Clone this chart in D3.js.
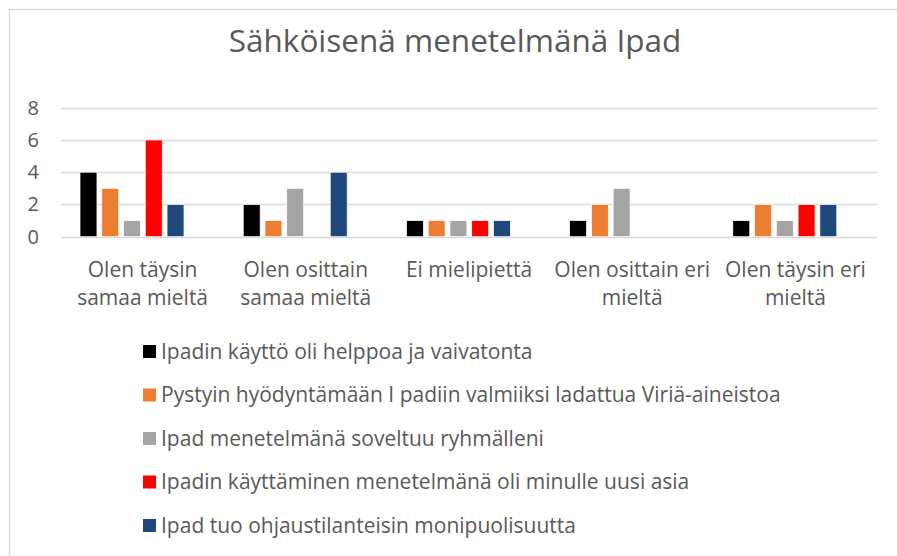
<!DOCTYPE html>
<html>
<head>
<meta charset="utf-8">
<script src="https://cdn.jsdelivr.net/npm/d3@7"></script>
<style>
  html, body { margin: 0; padding: 0; background: #fff; }
  svg { display: block; }
  text { font-family: "Open Sans", sans-serif; fill: #595959; }
</style>
</head>
<body>
<svg id="chart" width="897" height="556"></svg>
<script>
const title = "Sähköisenä menetelmänä Ipad";
const categories = ["Olen täysin samaa mieltä", "Olen osittain samaa mieltä", "Ei mielipiettä", "Olen osittain eri mieltä", "Olen täysin eri mieltä"];
const seriesNames = [
  "Ipadin käyttö oli helppoa ja vaivatonta",
  "Pystyin hyödyntämään I padiin valmiiksi ladattua Viriä-aineistoa",
  "Ipad menetelmänä soveltuu ryhmälleni",
  "Ipadin käyttäminen menetelmänä oli minulle uusi asia",
  "Ipad tuo ohjaustilanteisin monipuolisuutta"
];
const seriesColors = ["#000000", "#ed7d31", "#a5a5a5", "#ff0000", "#1f497d"];
const helppoa = [4, 2, 1, 1, 1];
const hyodyntamaan = [3, 1, 1, 2, 2];
const soveltuu = [1, 3, 1, 3, 1];
const uusiAsia = [6, 0, 1, 0, 2];
const monipuolisuutta = [2, 4, 1, 0, 2];
const seriesValues = [helppoa, hyodyntamaan, soveltuu, uusiAsia, monipuolisuutta];
const yTicks = [0, 2, 4, 6, 8];

const svg = d3.select("#chart");

// outer border
svg.append("rect").attr("x", 9.5).attr("y", 9.5).attr("width", 900).attr("height", 600)
  .attr("fill", "none").attr("stroke", "#d9d9d9").attr("stroke-width", 1.5);

// title
svg.append("text").attr("x", 455).attr("y", 52).attr("text-anchor", "middle")
  .style("font-size", "31.5px").text(title);

const plotLeft = 61, plotRight = 877;
const x0 = d3.scaleBand().domain(categories).range([plotLeft, plotRight]);
const x1 = d3.scaleBand().domain(d3.range(seriesNames.length)).range([19, 123]).paddingInner(0.22);
const y = d3.scaleLinear().domain([0, 8]).range([236.7, 107.7]);

// gridlines
svg.append("g").selectAll("line").data(yTicks).join("line")
  .attr("x1", plotLeft).attr("x2", plotRight)
  .attr("y1", d => Math.round(y(d)) + 0.5).attr("y2", d => Math.round(y(d)) + 0.5)
  .attr("stroke", "#d9d9d9").attr("stroke-width", 1.5);

// y tick labels
svg.append("g").selectAll("text").data(yTicks).join("text")
  .attr("x", 39).attr("y", d => y(d)).attr("dy", "0.35em").attr("text-anchor", "end")
  .style("font-size", "20px").text(d => d);

// bars
const rows = [];
seriesValues.forEach((vals, s) => vals.forEach((v, c) => rows.push({ s, c, v })));
svg.append("g").selectAll("rect").data(rows.filter(d => d.v > 0)).join("rect")
  .attr("x", d => x0(categories[d.c]) + x1(d.s))
  .attr("width", x1.bandwidth())
  .attr("y", d => y(d.v))
  .attr("height", d => y(0) - y(d.v))
  .attr("fill", d => seriesColors[d.s])
  .attr("stroke", "#fff").attr("stroke-width", 0.75);

// category labels with wrapping
const catG = svg.append("g");
categories.forEach(cat => {
  const t = catG.append("text").attr("text-anchor", "middle")
    .attr("x", x0(cat) + x0.bandwidth() / 2).attr("y", 277)
    .style("font-size", "21px");
  const words = cat.split(" ");
  let line = [], lines = [];
  const probe = t.append("tspan");
  words.forEach(w => {
    const test = line.concat(w).join(" ");
    probe.text(test);
    if (probe.node().getComputedTextLength() > 163 && line.length) {
      lines.push(line.join(" "));
      line = [w];
    } else line.push(w);
  });
  lines.push(line.join(" "));
  probe.remove();
  lines.forEach((l, i) => {
    t.append("tspan").attr("x", x0(cat) + x0.bandwidth() / 2).attr("dy", i === 0 ? 0 : 28).text(l);
  });
});

// legend
const lg = svg.append("g");
seriesNames.forEach((name, i) => {
  const cy = 351.5 + i * 43.5;
  lg.append("rect").attr("x", 143).attr("y", cy - 6.5).attr("width", 13).attr("height", 13)
    .attr("fill", seriesColors[i]);
  lg.append("text").attr("x", 161).attr("y", cy).attr("dy", "0.35em")
    .style("font-size", "21px").text(name);
});
</script>
</body>
</html>
